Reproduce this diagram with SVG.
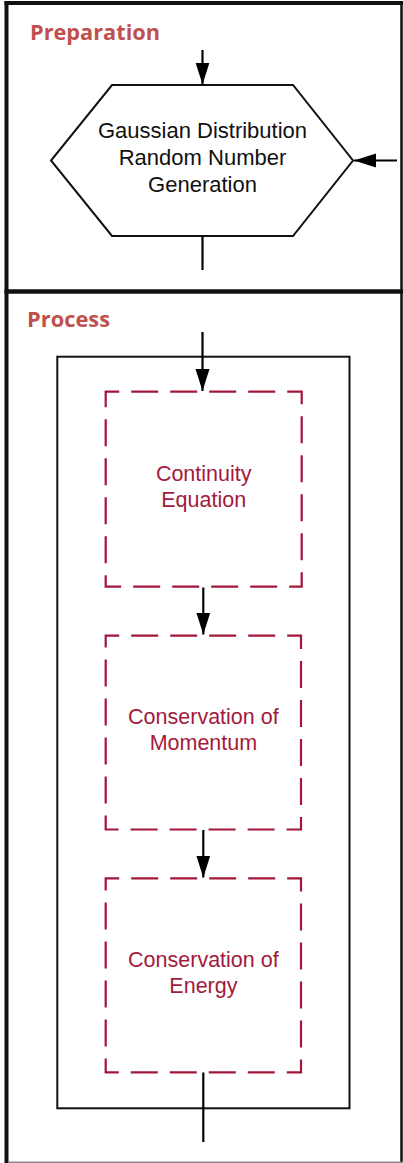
<svg xmlns="http://www.w3.org/2000/svg" width="403" height="1163" viewBox="0 0 403 1163">
  <style>
    .title { font-family: "Open Sans", "Liberation Sans", sans-serif; font-weight: 700; font-size: 22px; fill: #c0504d; }
    .hex { fill: #ffffff; stroke: #111111; stroke-width: 2; stroke-linejoin: miter; }
    .hextext { font-family: "Liberation Sans", Arial, sans-serif; font-size: 22px; fill: #111111; text-anchor: middle; }
    .frame { fill: none; stroke: #111111; }
    .container { fill: #ffffff; stroke: #111111; stroke-width: 2; }
    .step { fill: #ffffff; stroke: #a3163a; stroke-width: 2.2; stroke-dasharray: 27 12; stroke-dashoffset: 13.5; }
    .steptext { font-family: "Liberation Sans", Arial, sans-serif; font-size: 21.5px; fill: #a31a3c; text-anchor: middle; }
    .conn { fill: none; stroke: #000000; stroke-width: 2.2; }
  </style>
  <defs>
    <marker id="arrow" markerUnits="userSpaceOnUse" markerWidth="22" markerHeight="15" refX="22" refY="7.5" orient="auto" viewBox="0 0 22 15">
      <path d="M0,0.5 L22,7.5 L0,14.5 Z" fill="#000000"/>
    </marker>
  </defs>

  <rect width="403" height="1163" fill="#ffffff"/>

  <g id="frame">
    <line class="frame" x1="6.5" y1="1" x2="6.5" y2="1163" stroke-width="4"/>
    <line class="frame" x1="4.5" y1="3" x2="403" y2="3" stroke-width="4"/>
    <line class="frame" x1="401.5" y1="1" x2="401.5" y2="1163" stroke-width="2.5"/>
    <line class="frame" x1="4.5" y1="291.5" x2="403" y2="291.5" stroke-width="4.5"/>
    <line x1="8" y1="1162.2" x2="403" y2="1162.2" stroke="#8a8a8a" stroke-width="1.6"/>
  </g>

  <g id="title-preparation">
    <text class="title" x="30" y="40" textLength="130" lengthAdjust="spacingAndGlyphs">Preparation</text>
  </g>
  <g id="title-process">
    <text class="title" x="27" y="326.5" textLength="83" lengthAdjust="spacingAndGlyphs">Process</text>
  </g>

  <g id="node-gaussian">
    <polygon class="hex" points="112,85 293,85 353,160.5 293,236 112,236 51,160.5"/>
    <text class="hextext" x="202.5" y="138">Gaussian Distribution</text>
    <text class="hextext" x="202.5" y="165">Random Number</text>
    <text class="hextext" x="202.5" y="192">Generation</text>
  </g>

  <g id="node-process-container">
    <rect class="container" x="57.3" y="356.7" width="292.2" height="751.6"/>
  </g>

  <g id="node-continuity">
    <rect class="step" x="105.7" y="391.7" width="196" height="195"/>
    <text class="steptext" x="203.7" y="481">Continuity</text>
    <text class="steptext" x="203.7" y="506.5">Equation</text>
  </g>

  <g id="node-momentum">
    <rect class="step" x="105.7" y="635.7" width="195.3" height="193.8"/>
    <text class="steptext" x="203.4" y="724">Conservation of</text>
    <text class="steptext" x="203.4" y="750">Momentum</text>
  </g>

  <g id="node-energy">
    <rect class="step" x="105.7" y="878.3" width="195.3" height="194"/>
    <text class="steptext" x="203.4" y="966.7">Conservation of</text>
    <text class="steptext" x="203.4" y="993">Energy</text>
  </g>

  <g id="connectors">
    <line class="conn" x1="202.5" y1="50" x2="202.5" y2="84.5" marker-end="url(#arrow)"/>
    <line class="conn" x1="397" y1="160.5" x2="354" y2="160.5" marker-end="url(#arrow)"/>
    <line class="conn" x1="202.5" y1="236" x2="202.5" y2="270"/>
    <line class="conn" x1="202.5" y1="332" x2="202.5" y2="391" marker-end="url(#arrow)"/>
    <line class="conn" x1="203.3" y1="587.5" x2="203.3" y2="634.5" marker-end="url(#arrow)"/>
    <line class="conn" x1="203.3" y1="830" x2="203.3" y2="877.5" marker-end="url(#arrow)"/>
    <line class="conn" x1="203.3" y1="1072.5" x2="203.3" y2="1142"/>
  </g>
</svg>
